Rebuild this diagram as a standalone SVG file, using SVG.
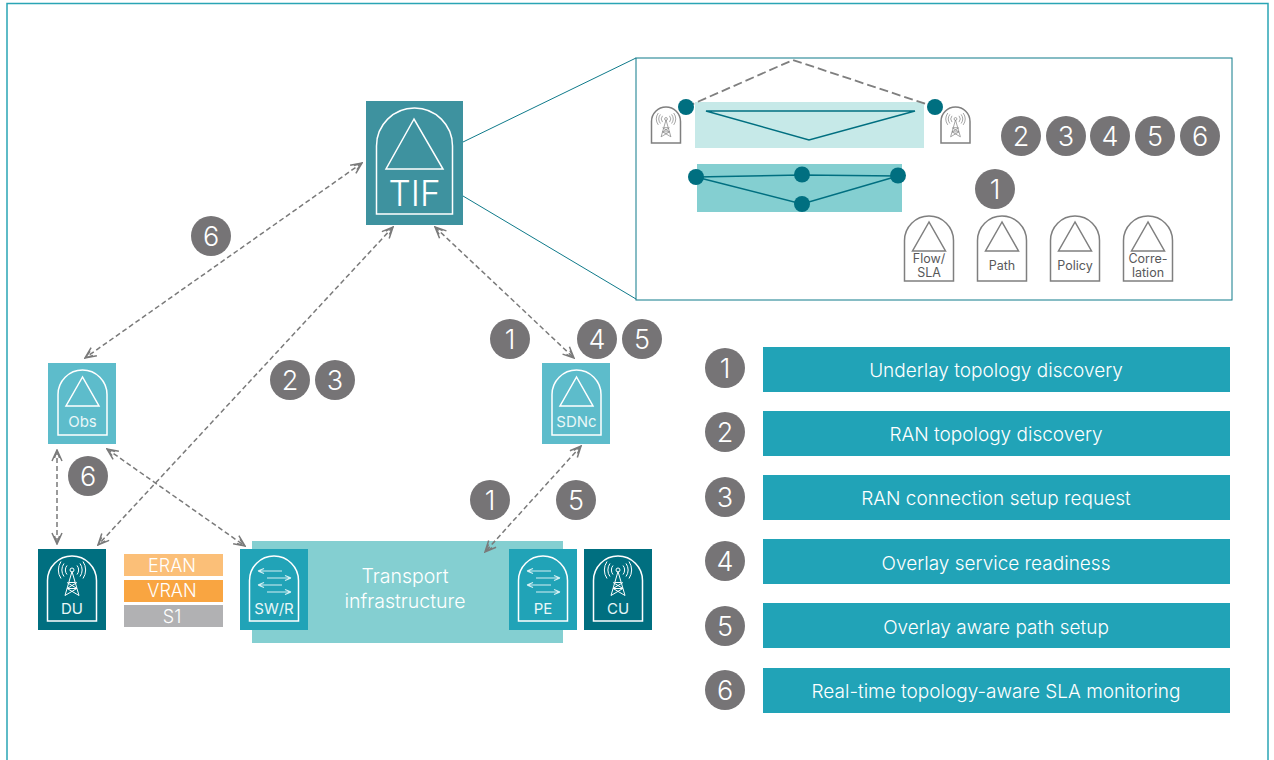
<svg xmlns="http://www.w3.org/2000/svg" xmlns:xlink="http://www.w3.org/1999/xlink" width="1274" height="760" viewBox="0 0 1274 760">
<style>
text{font-family:"Inter","Liberation Sans",sans-serif;text-anchor:middle}
.wl{fill:none;stroke:#fff;stroke-width:1.5}
.gl{fill:none;stroke:#7f7f7f;stroke-width:1.5}
.wt{fill:#e9f7f8;font-size:15px}
.gt{fill:#58585a;font-size:12.5px}
.num circle{fill:#767476}
.num text{fill:#fff;font-size:27px;font-weight:300}
.bar{fill:#21a3b7}
.bt{fill:#fff;font-size:19px;font-weight:300}
.tt{fill:#fff;font-size:19.5px;font-weight:300}
.kt{fill:#fff;font-size:18px;font-weight:300}
.con{fill:none;stroke:#7a7a7a;stroke-width:1.5;stroke-dasharray:5 3;marker-start:url(#ah);marker-end:url(#ah)}
.pl{fill:none;stroke:#006f80;stroke-width:1.5}
.cl{fill:none;stroke:#0f7a8a;stroke-width:1}
.dot{fill:#006f80}
</style>
<defs>
<marker id="ah" viewBox="0 0 14 12" refX="13" refY="6" markerWidth="14" markerHeight="12" markerUnits="userSpaceOnUse" orient="auto-start-reverse">
<path d="M2 1L13 6L2 11M5 3.500L13 6L5 8.500" fill="none" stroke="#7a7a7a" stroke-width="1.500"/>
</marker>
<path id="arch" d="M0 65V24.500A24.500 24.500 0 0 1 49 24.500V65Z"/>
<path id="tri" d="M24.500 6L8 35H41Z"/>
<g id="tower" fill="none" stroke-width="1">
<path d="M0 0L-7 24M0 0L7 24M-3.200 11H3.200M-4.800 17H4.800M-5 11L5 17M5 11L-5 17M-7 24L4.800 17M7 24L-4.800 17"/>
<circle cx="0" cy="-1.500" r="2"/>
<path d="M-5 -6A7 7 0 0 0 -5 3M5 -6A7 7 0 0 1 5 3M-8 -8A11 11 0 0 0 -8 5M8 -8A11 11 0 0 1 8 5M-11 -10A15 15 0 0 0 -11 7M11 -10A15 15 0 0 1 11 7"/>
</g>
<g id="arrows" fill="none" stroke-width="1.200">
<path d="M0 15H24M0 15L6 12.500M0 15L6 17.500M9 22H33M33 22L27 19.500M33 22L27 24.500M0 29H24M0 29L6 26.500M0 29L6 31.500M9 36H33M33 36L27 33.500M33 36L27 38.500"/>
</g>
</defs>
<rect id="frame" x="7" y="3.500" width="1261" height="780" fill="none" stroke="#2aa5b5" stroke-width="1.500"/>

<g id="callout">
<path class="cl" d="M463 142L636 58M463 196L636 299"/>
<rect class="cl" x="636" y="58" width="596" height="242"/>
</g>

<g id="underlay-overlay">
<rect x="695" y="102" width="229" height="46" fill="#c6e9e8"/>
<rect x="697" y="164" width="205" height="48" fill="#84cfd1"/>
<path class="pl" d="M706 111H915L809 140Z"/>
<path class="pl" d="M696 177L802 175L898 176L802 204Z"/>
<path d="M686 107L793 60L935 107" fill="none" stroke="#7f7f7f" stroke-width="1.800" stroke-dasharray="9 4"/>
<circle class="dot" cx="686" cy="107" r="8"/><circle class="dot" cx="935" cy="107" r="8"/>
<circle class="dot" cx="696" cy="177" r="8"/><circle class="dot" cx="802" cy="174.500" r="8"/><circle class="dot" cx="898" cy="175.500" r="8"/><circle class="dot" cx="802" cy="204" r="8"/>
</g>
<g id="mini-l" transform="translate(651.500 107)"><path class="gl" d="M0 36V14.500A14.500 14.500 0 0 1 29 14.500V36Z"/><use xlink:href="#tower" href="#tower" transform="translate(14.500 13) scale(.7)" stroke="#7f7f7f"/></g>
<g id="mini-r" transform="translate(941 107)"><path class="gl" d="M0 36V14.500A14.500 14.500 0 0 1 29 14.500V36Z"/><use xlink:href="#tower" href="#tower" transform="translate(14.500 13) scale(.7)" stroke="#7f7f7f"/></g>

<g id="flow-sla" transform="translate(904.500 216)"><use href="#arch" class="gl"/><use href="#tri" class="gl"/><text class="gt" x="24.500" y="47">Flow/</text><text class="gt" x="24.500" y="61">SLA</text></g>
<g id="path-n" transform="translate(977.500 216)"><use href="#arch" class="gl"/><use href="#tri" class="gl"/><text class="gt" x="24.500" y="54">Path</text></g>
<g id="policy" transform="translate(1050.500 216)"><use href="#arch" class="gl"/><use href="#tri" class="gl"/><text class="gt" x="24.500" y="54">Policy</text></g>
<g id="correlation" transform="translate(1123.500 216)"><use href="#arch" class="gl"/><use href="#tri" class="gl"/><text class="gt" x="24.500" y="47">Corre-</text><text class="gt" x="24.500" y="61">lation</text></g>

<g id="tif"><rect x="366" y="101" width="97" height="124" fill="#3e929f"/>
<path class="wl" d="M376.500 214V146A38 38 0 0 1 452.500 146V214Z"/><path class="wl" d="M414 119L386 169H443Z"/>
<text x="414.500" y="206" fill="#fff" font-size="35" font-weight="300">TIF</text></g>

<g id="transport"><rect x="252" y="541" width="311" height="102" fill="#84cfd1"/>
<text class="tt" x="405" y="583">Transport</text><text class="tt" x="405" y="608">infrastructure</text></g>

<g id="obs" transform="translate(48 363)"><rect width="68" height="81" fill="#5dbccb"/><use href="#arch" class="wl" x="10" y="7"/><use href="#tri" class="wl" x="10" y="8"/><text class="wt" x="34.500" y="64">Obs</text></g>
<g id="sdnc" transform="translate(542 363)"><rect width="68" height="81" fill="#5dbccb"/><use href="#arch" class="wl" x="10" y="7"/><use href="#tri" class="wl" x="10" y="8"/><text class="wt" x="34.500" y="64">SDNc</text></g>
<g id="du" transform="translate(38 549)"><rect width="68" height="81" fill="#006f80"/><use href="#arch" class="wl" x="9.500" y="7"/><use href="#tower" transform="translate(34 22.500)" stroke="#fff"/><text class="wt" x="34" y="65">DU</text></g>
<g id="cu" transform="translate(584 549)"><rect width="68" height="81" fill="#006f80"/><use href="#arch" class="wl" x="9.500" y="7"/><use href="#tower" transform="translate(34 22.500)" stroke="#fff"/><text class="wt" x="34" y="65">CU</text></g>
<g id="swr" transform="translate(240 549)"><rect width="68" height="81" fill="#21a3b7"/><use href="#arch" class="wl" x="9.500" y="7"/><use href="#arrows" transform="translate(18 7)" stroke="#d6f0f3"/><text class="wt" x="34" y="65">SW/R</text></g>
<g id="pe" transform="translate(509 549)"><rect width="68" height="81" fill="#21a3b7"/><use href="#arch" class="wl" x="9.500" y="7"/><use href="#arrows" transform="translate(18 7)" stroke="#d6f0f3"/><text class="wt" x="34" y="65">PE</text></g>

<g id="plane-key">
<rect x="124" y="554" width="99" height="22" fill="#fbbf78"/><text class="kt" x="172" y="571.500">ERAN</text>
<rect x="124" y="580" width="99" height="22" fill="#f9a541"/><text class="kt" x="172" y="597">VRAN</text>
<rect x="124" y="605" width="99" height="22" fill="#b1b1b3"/><text class="kt" x="172" y="623">S1</text>
</g>

<g id="connectors">
<path class="con" d="M362 163L85 358"/>
<path class="con" d="M393 227L98 545"/>
<path class="con" d="M435 227L574 358"/>
<path class="con" d="M107 449L245 546"/>
<path class="con" d="M57 450V544"/>
<path class="con" d="M581 446L485 552"/>
</g>

<g class="num" id="badges">
<g id="b-6a"><circle cx="211" cy="236" r="20"/><text x="211" y="246">6</text></g>
<g id="b-2a"><circle cx="290" cy="380" r="20"/><text x="290" y="390">2</text></g>
<g id="b-3a"><circle cx="335" cy="380" r="20"/><text x="335" y="390">3</text></g>
<g id="b-1a"><circle cx="510" cy="339" r="20"/><text x="510" y="349">1</text></g>
<g id="b-4a"><circle cx="597" cy="339" r="20"/><text x="597" y="349">4</text></g>
<g id="b-5a"><circle cx="642" cy="339" r="20"/><text x="642" y="349">5</text></g>
<g id="b-6b"><circle cx="88" cy="476" r="20"/><text x="88" y="486">6</text></g>
<g id="b-1b"><circle cx="490" cy="500" r="20"/><text x="490" y="510">1</text></g>
<g id="b-5b"><circle cx="576" cy="500" r="20"/><text x="576" y="510">5</text></g>
<g id="b-2c"><circle cx="1021" cy="136" r="20"/><text x="1021" y="146">2</text></g>
<g id="b-3c"><circle cx="1066" cy="136" r="20"/><text x="1066" y="146">3</text></g>
<g id="b-4c"><circle cx="1110" cy="136" r="20"/><text x="1110" y="146">4</text></g>
<g id="b-5c"><circle cx="1155" cy="136" r="20"/><text x="1155" y="146">5</text></g>
<g id="b-6c"><circle cx="1200" cy="136" r="20"/><text x="1200" y="146">6</text></g>
<g id="b-1c"><circle cx="995" cy="189" r="20"/><text x="995" y="199">1</text></g>
</g>

<g id="legend">
<g id="l1" class="num"><circle cx="725" cy="368" r="20"/><text x="725" y="378">1</text></g><rect class="bar" x="763" y="347" width="467" height="45"/><text class="bt" x="996" y="377">Underlay topology discovery</text>
<g id="l2" class="num"><circle cx="725" cy="432" r="20"/><text x="725" y="442">2</text></g><rect class="bar" x="763" y="411" width="467" height="45"/><text class="bt" x="996" y="441">RAN topology discovery</text>
<g id="l3" class="num"><circle cx="725" cy="497" r="20"/><text x="725" y="507">3</text></g><rect class="bar" x="763" y="475" width="467" height="45"/><text class="bt" x="996" y="505">RAN connection setup request</text>
<g id="l4" class="num"><circle cx="725" cy="561" r="20"/><text x="725" y="571">4</text></g><rect class="bar" x="763" y="539" width="467" height="45"/><text class="bt" x="996" y="570">Overlay service readiness</text>
<g id="l5" class="num"><circle cx="725" cy="626" r="20"/><text x="725" y="636">5</text></g><rect class="bar" x="763" y="603" width="467" height="45"/><text class="bt" x="996" y="634">Overlay aware path setup</text>
<g id="l6" class="num"><circle cx="725" cy="690" r="20"/><text x="725" y="700">6</text></g><rect class="bar" x="763" y="668" width="467" height="45"/><text class="bt" x="996" y="698">Real-time topology-aware SLA monitoring</text>
</g>
</svg>
